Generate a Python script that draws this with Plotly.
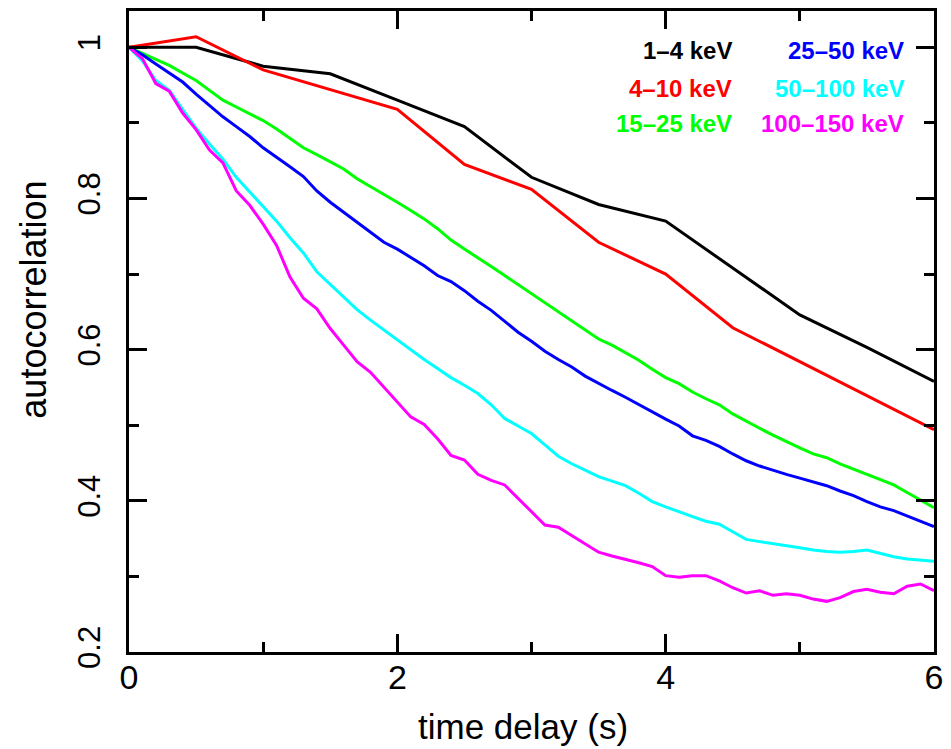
import plotly.graph_objects as go

# ---------------- data ----------------
t_coarse = [0.0, 0.5, 1.0, 1.5, 2.0, 2.5, 3.0, 3.5, 4.0, 4.5, 5.0, 5.5, 6.0]
ac_1_4 = [1.000, 1.000, 0.975, 0.965, 0.930, 0.895, 0.828, 0.792, 0.770, 0.708, 0.646, 0.603, 0.558]
ac_4_10 = [1.000, 1.014, 0.970, 0.944, 0.918, 0.845, 0.812, 0.742, 0.700, 0.629, 0.584, 0.539, 0.494]

t_fine = [round(0.1 * i, 1) for i in range(61)]
ac_15_25 = [1.000, 0.992, 0.984, 0.976, 0.966, 0.956, 0.943, 0.930, 0.921, 0.912,
            0.903, 0.892, 0.879, 0.867, 0.858, 0.849, 0.839, 0.826, 0.816, 0.806,
            0.795, 0.784, 0.773, 0.760, 0.745, 0.733, 0.722, 0.710, 0.698, 0.686,
            0.674, 0.662, 0.650, 0.638, 0.626, 0.614, 0.606, 0.596, 0.586, 0.574,
            0.563, 0.555, 0.544, 0.535, 0.527, 0.515, 0.505, 0.496, 0.487, 0.478,
            0.470, 0.462, 0.457, 0.449, 0.442, 0.435, 0.428, 0.421, 0.411, 0.401,
            0.391]
ac_25_50 = [1.000, 0.990, 0.978, 0.966, 0.954, 0.938, 0.923, 0.908, 0.895, 0.882,
            0.867, 0.855, 0.842, 0.829, 0.810, 0.795, 0.782, 0.769, 0.756, 0.742,
            0.733, 0.722, 0.711, 0.698, 0.690, 0.678, 0.664, 0.652, 0.638, 0.623,
            0.611, 0.598, 0.587, 0.577, 0.565, 0.555, 0.546, 0.537, 0.527, 0.517,
            0.508, 0.499, 0.486, 0.480, 0.472, 0.462, 0.453, 0.446, 0.440, 0.435,
            0.430, 0.425, 0.420, 0.413, 0.407, 0.399, 0.392, 0.387, 0.380, 0.373,
            0.366]
ac_50_100 = [1.000, 0.982, 0.956, 0.943, 0.918, 0.893, 0.872, 0.852, 0.828, 0.809,
             0.790, 0.770, 0.748, 0.728, 0.703, 0.686, 0.670, 0.653, 0.639, 0.626,
             0.612, 0.600, 0.587, 0.575, 0.563, 0.553, 0.542, 0.527, 0.509, 0.499,
             0.489, 0.474, 0.459, 0.449, 0.440, 0.432, 0.426, 0.420, 0.410, 0.399,
             0.392, 0.385, 0.379, 0.373, 0.369, 0.359, 0.349, 0.346, 0.343, 0.341,
             0.338, 0.335, 0.333, 0.332, 0.333, 0.335, 0.331, 0.326, 0.323, 0.322,
             0.320]
ac_100_150 = [1.000, 0.985, 0.952, 0.942, 0.913, 0.891, 0.864, 0.847, 0.810, 0.791,
              0.766, 0.738, 0.696, 0.668, 0.654, 0.628, 0.606, 0.584, 0.570, 0.550,
              0.530, 0.511, 0.501, 0.482, 0.460, 0.454, 0.435, 0.427, 0.421, 0.403,
              0.385, 0.368, 0.365, 0.354, 0.343, 0.332, 0.327, 0.323, 0.318, 0.313,
              0.301, 0.299, 0.301, 0.301, 0.294, 0.285, 0.278, 0.281, 0.275, 0.277,
              0.275, 0.270, 0.267, 0.272, 0.280, 0.283, 0.279, 0.277, 0.287, 0.290,
              0.281]

labels = ["1–4 keV", "4–10 keV", "15–25 keV", "25–50 keV", "50–100 keV", "100–150 keV"]
colors = ["#000000", "#ff0000", "#00ff00", "#0000ff", "#00ffff", "#ff00ff"]
x_ticks = [0, 2, 4, 6]
y_ticks = [0.2, 0.4, 0.6, 0.8, 1.0]
y_tick_text = ["0.2", "0.4", "0.6", "0.8", "1"]

series = [
    (t_coarse, ac_1_4),
    (t_coarse, ac_4_10),
    (t_fine, ac_15_25),
    (t_fine, ac_25_50),
    (t_fine, ac_50_100),
    (t_fine, ac_100_150),
]

FONT = "Liberation Sans, Arial, sans-serif"

fig = go.Figure()
for (xs, ys), name, col in zip(series, labels, colors):
    fig.add_trace(go.Scatter(x=xs, y=ys, mode="lines", name=name,
                             line=dict(color=col, width=3), showlegend=False))

# legend as two right-aligned text columns
legend_pos = [(4.51, 0.996), (4.51, 0.946), (4.51, 0.899),
              (5.79, 0.996), (5.79, 0.946), (5.79, 0.899)]
for (lx, ly), name, col in zip(legend_pos, labels, colors):
    fig.add_annotation(x=lx, y=ly, xref="x", yref="y", text="<b>" + name + "</b>",
                       showarrow=False, xanchor="right", yanchor="middle",
                       font=dict(family=FONT, size=24, color=col))

fig.add_annotation(x=0.49, y=-0.116, xref="paper", yref="paper", text="time delay (s)",
                   showarrow=False, xanchor="center", yanchor="middle",
                   font=dict(family=FONT, size=35, color="black"))
fig.add_annotation(x=-0.119, y=0.55, xref="paper", yref="paper", text="autocorrelation",
                   showarrow=False, xanchor="center", yanchor="middle", textangle=-90,
                   font=dict(family=FONT, size=36, color="black"))

axis_common = dict(showgrid=False, zeroline=False, showline=True, linecolor="black",
                   linewidth=2.5, mirror="ticks", ticks="inside", tickcolor="black",
                   tickwidth=2.5)

fig.update_xaxes(range=[0, 6], tickvals=x_ticks, ticklen=18, ticklabelstandoff=-7,
                 tickfont=dict(family=FONT, size=34, color="black"),
                 minor=dict(dtick=1, tick0=0, ticks="inside", ticklen=10,
                            tickcolor="black", tickwidth=2.5, showgrid=False),
                 **axis_common)
fig.update_yaxes(range=[0.2, 1.048], tickvals=y_ticks, ticktext=y_tick_text, ticklen=18,
                 tickangle=-90, ticklabelstandoff=14,
                 tickfont=dict(family=FONT, size=31, color="black"),
                 minor=dict(dtick=0.1, tick0=0.2, ticks="inside", ticklen=10,
                            tickcolor="black", tickwidth=2.5, showgrid=False),
                 **axis_common)

fig.update_layout(width=951, height=749, margin=dict(l=129, r=15, t=8, b=97),
                  plot_bgcolor="white", paper_bgcolor="white")

fig.write_html("out.html")
